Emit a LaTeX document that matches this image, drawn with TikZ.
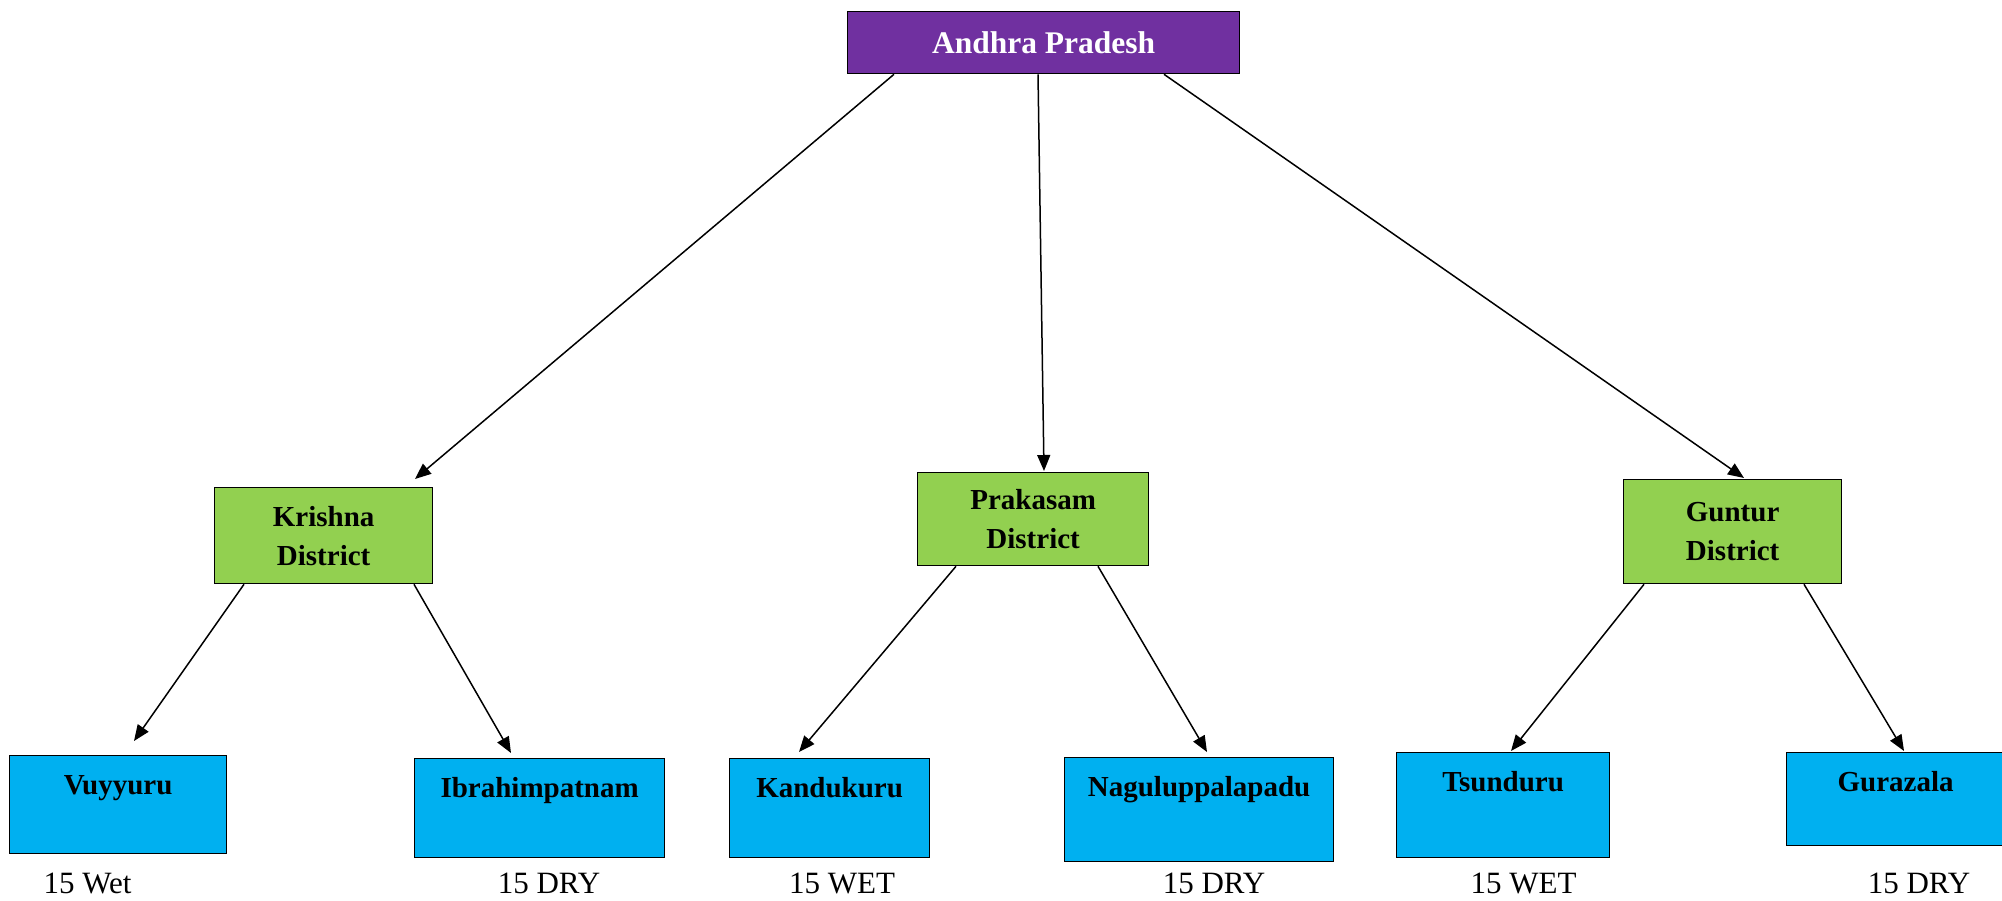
\documentclass[tikz,border=0pt]{standalone}
\usepackage{fontspec}
\setmainfont{Liberation Serif}
\usetikzlibrary{arrows.meta}
\definecolor{appurple}{HTML}{7030A0}
\definecolor{distgreen}{HTML}{92D050}
\definecolor{mandblue}{HTML}{00B0F0}
\begin{document}
\begin{tikzpicture}[x=1pt,y=-1pt,
  box/.style={draw=black, line width=1.3pt, inner sep=0pt, anchor=north west},
  sz/.style 2 args={minimum width=#1pt, minimum height=#2pt},
  statebox/.style={box, fill=appurple, text=white, font=\fontsize{31.5}{38}\selectfont\bfseries},
  distbox/.style={box, fill=distgreen, align=center, font=\fontsize{29}{39}\selectfont\bfseries},
  mandbox/.style={box, fill=mandblue},
  mandtext/.style={font=\fontsize{29}{35}\selectfont\bfseries, anchor=base, inner sep=0pt, yshift=-39pt},
  soil/.style={font=\fontsize{31}{37}\selectfont, anchor=base, inner sep=0pt},
  arr/.style={-{Triangle[length=16pt,width=13pt]}, line width=1.5pt}]
\useasboundingbox (0,0) rectangle (2002,901);
\clip (0,0) rectangle (2002,901);
\fill[white] (0,0) rectangle (2002,901);

% state
\node[statebox, sz={392}{62}] (ap) at (847,11) {Andhra Pradesh};

% districts
\node[distbox, sz={218}{96}] (kr) at (214,487) {Krishna\\District};
\node[distbox, sz={231}{93}] (pr) at (917,472) {Prakasam\\District};
\node[distbox, sz={218}{104}] (gu) at (1623,479) {Guntur\\District};

% mandals
\node[mandbox, sz={217}{98}, label={[mandtext]north:Vuyyuru}] (vu) at (9,755) {};
\node[mandbox, sz={250}{99}, label={[mandtext]north:Ibrahimpatnam}] (ib) at (414,758) {};
\node[mandbox, sz={200}{99}, label={[mandtext]north:Kandukuru}] (ka) at (729,758) {};
\node[mandbox, sz={269}{104}, label={[mandtext]north:Naguluppalapadu}] (na) at (1064,757) {};
\node[mandbox, sz={213}{105}, label={[mandtext]north:Tsunduru}] (ts) at (1396,752) {};
\node[mandbox, sz={218}{93}, label={[mandtext]north:Gurazala}] (gz) at (1786,752) {};

% soil labels
\node[soil] (l1) at (87.5,893) {15 Wet};
\node[soil] (l2) at (549,893) {15 DRY};
\node[soil] (l3) at (842,893) {15 WET};
\node[soil] (l4) at (1214,893) {15 DRY};
\node[soil] (l5) at (1523.5,893) {15 WET};
\node[soil] (l6) at (1919,893) {15 DRY};

% connectors
\draw[arr] ([xshift=47pt]ap.south west) -- ([xshift=201pt,yshift=8pt]kr.north west);
\draw[arr] ([xshift=191pt]ap.south west) -- ([xshift=127pt,yshift=1pt]pr.north west);
\draw[arr] ([xshift=317pt]ap.south west) -- ([xshift=121pt,yshift=1pt]gu.north west);

\draw[arr] ([xshift=30pt]kr.south west) -- ([xshift=125pt,yshift=14pt]vu.north west);
\draw[arr] ([xshift=200pt]kr.south west) -- ([xshift=97pt,yshift=5pt]ib.north west);
\draw[arr] ([xshift=39pt]pr.south west) -- ([xshift=70pt,yshift=6pt]ka.north west);
\draw[arr] ([xshift=181pt]pr.south west) -- ([xshift=143pt,yshift=5pt]na.north west);
\draw[arr] ([xshift=21pt]gu.south west) -- ([xshift=115pt,yshift=1pt]ts.north west);
\draw[arr] ([xshift=181pt]gu.south west) -- ([xshift=118pt,yshift=1pt]gz.north west);
\end{tikzpicture}
\end{document}
